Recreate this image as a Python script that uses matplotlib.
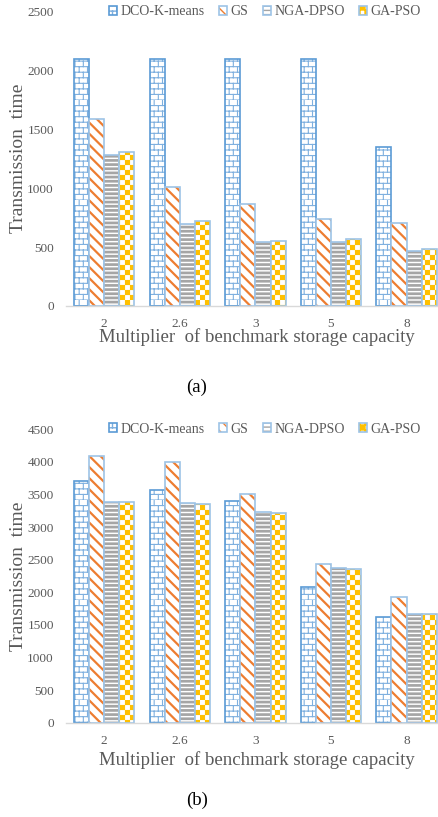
import warnings
import numpy as np
import matplotlib
matplotlib.use("Agg")
import matplotlib.pyplot as plt
import matplotlib.hatch as mhatch
from matplotlib.path import Path

warnings.filterwarnings("ignore")

# data
groups = ["2", "2.6", "3", "5", "8"]
series = ["DCO-K-means", "GS", "NGA-DPSO", "GA-PSO"]
time_a_dco = [2100, 2100, 2100, 2100, 1350]
time_a_gs = [1590, 1010, 865, 740, 705]
time_a_nga = [1285, 695, 540, 540, 470]
time_a_ga = [1305, 725, 550, 570, 487]
time_b_dco = [3700, 3565, 3405, 2080, 1625]
time_b_gs = [4090, 4005, 3515, 2440, 1935]
time_b_nga = [3390, 3370, 3225, 2375, 1660]
time_b_ga = [3385, 3350, 3220, 2350, 1660]
yticks_a = [0, 500, 1000, 1500, 2000, 2500]
yticks_b = [0, 500, 1000, 1500, 2000, 2500, 3000, 3500, 4000, 4500]


# custom hatches: 'b' = brick, 'c' = checkerboard
class BrickHatch(mhatch.HatchPatternBase):
    def __init__(self, hatch, density):
        self.rows = hatch.count('b') * 18
        self.cols = 12
        self.num_vertices = self.rows * 2 + self.rows * self.cols * 2

    def set_vertices_and_codes(self, vertices, codes):
        h = 1.0 / self.rows
        k = 0
        for i in range(self.rows):
            y = i * h
            vertices[k] = (0.0, y)
            vertices[k + 1] = (1.0, y)
            codes[k] = Path.MOVETO
            codes[k + 1] = Path.LINETO
            k += 2
            for j in range(self.cols):
                x = (j + 0.5 * (i % 2)) / self.cols
                vertices[k] = (x, y)
                vertices[k + 1] = (x, y + h)
                codes[k] = Path.MOVETO
                codes[k + 1] = Path.LINETO
                k += 2


class CheckerHatch(mhatch.HatchPatternBase):
    def __init__(self, hatch, density):
        self.n = hatch.count('c') * 20
        self.num_vertices = (self.n * self.n // 2) * 5 if self.n else 0

    def set_vertices_and_codes(self, vertices, codes):
        s = 1.0 / self.n
        k = 0
        for i in range(self.n):
            for j in range(self.n):
                if (i + j) % 2:
                    continue
                x0, y0 = j * s, i * s
                vertices[k:k + 5] = [(x0, y0), (x0 + s, y0), (x0 + s, y0 + s),
                                     (x0, y0 + s), (x0, y0)]
                codes[k:k + 5] = [Path.MOVETO, Path.LINETO, Path.LINETO,
                                  Path.LINETO, Path.CLOSEPOLY]
                k += 5


mhatch._hatch_types.append(BrickHatch)
mhatch._hatch_types.append(CheckerHatch)

plt.rcParams['font.family'] = ['Liberation Serif', 'DejaVu Serif']

hatch_colors = ["#7FB0DF", "#ED7D31", "#A5A5A5", "#FFC000"]
hatches = ["b", "\\\\\\", "----", "c"]
hatch_lws = [0.8, 1.6, 1.95, 0.1]
border_colors = ["#5B9BD5", "#9DC3E6", "#9DC3E6", "#9DC3E6"]
gray = "#595959"

fig = plt.figure(figsize=(4.38, 8.17), dpi=100)

W = 438.0
H = 817.0
ax_left = 66.4 / W
ax_w = 378.0 / W


def draw(ax, values, yticks, top_px, zero_px, tag, tag_y):
    x = np.arange(len(groups))
    width = 0.2
    handles = []
    for s, vals in enumerate(values):
        pos = x + (s - 1.5) * width
        with plt.rc_context({'hatch.linewidth': hatch_lws[s]}):
            bars = ax.bar(pos, vals, width, color="white", edgecolor=hatch_colors[s],
                          hatch=hatches[s], linewidth=0, label=series[s])
        for b in bars:
            if hasattr(b, "set_hatch_linewidth"):
                b.set_hatch_linewidth(hatch_lws[s])
        frame = ax.bar(pos, vals, width, fill=False, edgecolor=border_colors[s], linewidth=1.2)
        handles.append((bars[0], frame[0]))
    ax.set_xlim(-0.5, len(groups) - 0.5)
    ax.set_ylim(yticks[0], yticks[-1])
    ax.set_yticks(yticks)
    ax.set_xticks(x)
    ax.set_xticklabels(groups)
    for sp in ["top", "right", "left"]:
        ax.spines[sp].set_visible(False)
    ax.spines["bottom"].set_color("#D9D9D9")
    ax.spines["bottom"].set_linewidth(1.0)
    ax.tick_params(axis="y", length=0, pad=9, labelsize=9.5, labelcolor=gray)
    ax.tick_params(axis="x", length=0, pad=8.5, labelsize=9.5, labelcolor=gray)
    ax.set_ylabel("Transmission  time", fontsize=14, color=gray)
    ax.yaxis.set_label_coords(-0.128, 0.5)
    ax.yaxis.label.set_va("center")
    ax.set_xlabel("Multiplier  of benchmark storage capacity", fontsize=13.5, color=gray)
    ax.xaxis.set_label_coords((257 - 66.4) / 378.0, -(31.5 if tag == "(a)" else 37.3) / (zero_px - top_px))
    ax.xaxis.label.set_va("center")
    leg = ax.legend(handles=handles, labels=series, loc="center", ncol=4, frameon=False,
                    bbox_to_anchor=((265 - 66.4) / 378.0, 1.0), fontsize=10,
                    handlelength=0.6, handleheight=0.6, handletextpad=0.25,
                    columnspacing=1.0, borderaxespad=0)
    for t in leg.get_texts():
        t.set_color(gray)
    fig.text(197 / W, 1 - tag_y / H, tag, ha="center", va="center", fontsize=13.5)


top_a, zero_a = 11.5, 306.0
ax1 = fig.add_axes([ax_left, 1 - zero_a / H, ax_w, (zero_a - top_a) / H])
draw(ax1, [time_a_dco, time_a_gs, time_a_nga, time_a_ga], yticks_a, top_a, zero_a, "(a)", 387)

top_b, zero_b = 429.3, 722.7
ax2 = fig.add_axes([ax_left, 1 - zero_b / H, ax_w, (zero_b - top_b) / H])
draw(ax2, [time_b_dco, time_b_gs, time_b_nga, time_b_ga], yticks_b, top_b, zero_b, "(b)", 800)

fig.savefig("out.png", dpi=100)
